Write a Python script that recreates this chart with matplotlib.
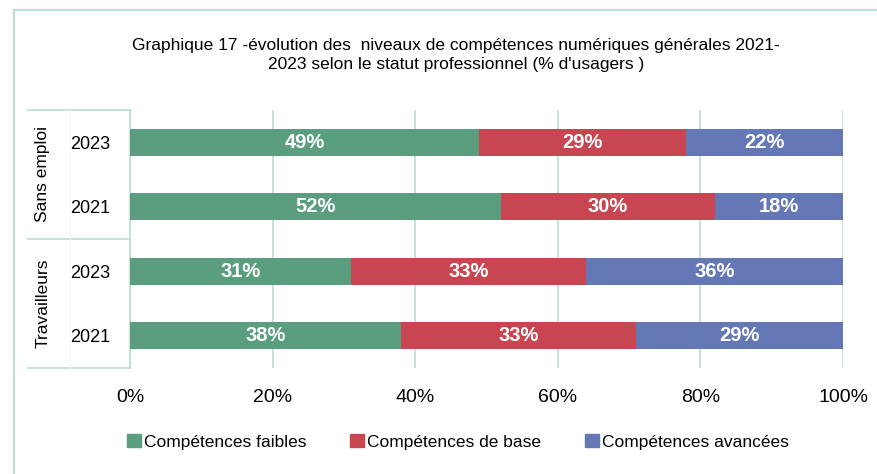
import matplotlib
matplotlib.use("Agg")
import matplotlib.pyplot as plt
import numpy as np
from matplotlib.lines import Line2D
from matplotlib.patches import Patch

# data, top to bottom as in the picture
groups = ["Sans emploi", "Travailleurs"]
years = ["2023", "2021", "2023", "2021"]
faibles = [49, 52, 31, 38]
base = [29, 30, 33, 33]
avancees = [22, 18, 36, 29]
series_labels = ["Compétences faibles", "Compétences de base", "Compétences avancées"]
colors = ["#5a9e7f", "#c84552", "#6578b6"]
grid_color = "#bfe0d6"

plt.rcParams['font.family'] = ['Liberation Sans', 'DejaVu Sans']

fig = plt.figure(figsize=(8.77, 4.74), dpi=100)
ax = fig.add_axes([130/877, 1 - 368/474, 713/877, 258/474])

y = np.arange(len(years))
left = np.zeros(len(years))
for vals, col, lab in zip([faibles, base, avancees], colors, series_labels):
    vals = np.array(vals, dtype=float)
    bars = ax.barh(y, vals, left=left, height=0.42, color=col, label=lab, zorder=3)
    for b, v in zip(bars, vals):
        ax.text(b.get_x() + b.get_width() / 2, b.get_y() + b.get_height() / 2,
                "%d%%" % v, ha="center", va="center", color="white",
                fontsize=14.5, fontweight="bold", zorder=4)
    left += vals

ax.set_xlim(0, 100)
ax.set_ylim(len(years) - 0.5, -0.5)
ax.set_xticks(np.arange(0, 101, 20))
ax.set_xticklabels(["%d%%" % v for v in range(0, 101, 20)], fontsize=14)
ax.tick_params(axis="x", length=0, pad=15)
ax.set_yticks(y)
ax.set_yticklabels(years, fontsize=13)
ax.tick_params(axis="y", length=0, pad=14)
ax.grid(axis="x", color=grid_color, linewidth=1.3, zorder=0)
for s in ax.spines.values():
    s.set_visible(False)

# two-level category axis boxes
x0 = -102 / 713
for yy in [-0.5, 1.5, 3.5]:
    ax.plot([x0, 0], [yy, yy], color=grid_color, lw=1.3, transform=ax.get_yaxis_transform(), clip_on=False)
ax.plot([0, 0], [-0.5, 3.5], color=grid_color, lw=1.3, transform=ax.get_yaxis_transform(), clip_on=False)
ax.plot([-60 / 713, -60 / 713], [-0.5, 3.5], color="#f3f6f5", lw=0.8, transform=ax.get_yaxis_transform(), clip_on=False)
for i, g in enumerate(groups):
    ax.text(-87 / 713, 2 * i + 0.5, g, rotation=90, ha="center", va="center", fontsize=12.5,
            transform=ax.get_yaxis_transform())

fig.text(0.52, 0.884, "Graphique 17 -évolution des  niveaux de compétences numériques générales 2021-\n"
         "2023 selon le statut professionnel (% d'usagers )",
         ha="center", va="center", fontsize=12.5, linespacing=1.3)

handles = [Patch(color=c) for c in colors]
fig.legend(handles, series_labels, loc="center", bbox_to_anchor=(0.522, 0.068), ncol=3,
           frameon=False, fontsize=12.5, handlelength=0.8, handleheight=0.8,
           handletextpad=0.2, columnspacing=2.5)

# outer frame lines
fig.add_artist(Line2D([14/877, 14/877], [0, 1 - 10/474], color=grid_color, lw=1.6))
fig.add_artist(Line2D([14/877, 1], [1 - 10/474, 1 - 10/474], color=grid_color, lw=1.6))

fig.savefig("out.png", dpi=100)
